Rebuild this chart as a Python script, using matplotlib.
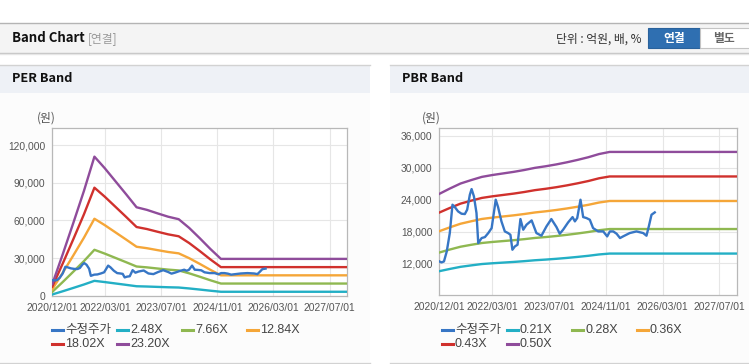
import matplotlib
matplotlib.use("Agg")
import matplotlib.pyplot as plt
import matplotlib.dates as mdates
from matplotlib.patches import Rectangle
from matplotlib.lines import Line2D
from matplotlib.ticker import FuncFormatter
import pandas as pd

W, H = 749, 364

# quarterly band base values (EPS for PER, BPS for PBR)
band_dates = ["2020-12-01", "2021-03-01", "2021-06-01", "2021-09-01", "2021-12-01",
              "2022-03-01", "2022-06-01", "2022-09-01", "2022-12-01", "2023-03-01",
              "2023-06-01", "2023-09-01", "2023-12-01", "2024-03-01", "2024-06-01",
              "2024-09-01", "2024-12-01", "2027-12-01"]
per_eps = [400, 1420, 2500, 3600, 4780, 4380, 3935, 3490, 3040, 2950,
           2830, 2715, 2630, 2330, 1975, 1605, 1265, 1265]
per_multiples = [2.48, 7.66, 12.84, 18.02, 23.20]
pbr_bps = [50200, 52200, 54100, 55400, 56600, 57300, 57900, 58500, 59200, 60000,
           60600, 61300, 62100, 63000, 64000, 65200, 66000, 66000]
pbr_multiples = [0.21, 0.28, 0.36, 0.43, 0.50]

# adjusted share price (수정주가)
price_dates = ["2020-12-01", "2020-12-20", "2021-01-10", "2021-02-03", "2021-03-01",
               "2021-03-24", "2021-04-13", "2021-05-11", "2021-06-10", "2021-07-08",
               "2021-07-28", "2021-08-20", "2021-09-04", "2021-09-24", "2021-10-16",
               "2021-10-31", "2021-11-29", "2021-12-27", "2022-01-25", "2022-02-23",
               "2022-03-30", "2022-04-19", "2022-05-18", "2022-06-16", "2022-07-14",
               "2022-08-03", "2022-08-20", "2022-09-10", "2022-10-03", "2022-10-28",
               "2022-11-21", "2022-12-19", "2023-02-01", "2023-03-14", "2023-04-26",
               "2023-06-08", "2023-07-20", "2023-09-02", "2023-09-30", "2023-10-29",
               "2023-12-11", "2024-01-18", "2024-02-07", "2024-02-27", "2024-03-26",
               "2024-04-18", "2024-05-16", "2024-06-14", "2024-07-12", "2024-08-25",
               "2024-10-07", "2024-11-10", "2024-12-03", "2025-01-01", "2025-01-30",
               "2025-02-28", "2025-03-26", "2025-05-22", "2025-07-19", "2025-09-15",
               "2025-10-13", "2025-11-02", "2025-11-25", "2025-12-23"]
price = [12380, 12190, 12380, 14260, 17720, 23060, 22620, 21800, 21360, 21300,
         22120, 24940, 26010, 24630, 21490, 15830, 16780, 16960, 17720, 18660,
         24000, 22620, 19920, 18030, 17720, 17400, 14580, 15200, 15520, 20360,
         18350, 19290, 20100, 17720, 17220, 18970, 20360, 18850, 17590, 18350,
         19730, 20730, 19920, 20550, 24000, 20730, 20550, 20230, 18660, 18030,
         18030, 17090, 18030, 18030, 17590, 16780, 17090, 17720, 18030, 17720,
         17220, 18970, 21170, 21610]

band_colors = ["#23afc5", "#8fb851", "#f5a638", "#d0312d", "#8f4c9b"]
price_color = "#3776c5"
xtick_dates = ["2020-12-01", "2022-03-01", "2023-07-01", "2024-11-01", "2026-03-01", "2027-07-01"]

KR = ["Noto Sans CJK KR", "DejaVu Sans"]
LAT = ["Liberation Sans", "Noto Sans CJK KR"]


def fx(x):
    return x / W


def fy(y):
    return 1 - y / H


def rect(fig, x0, y0, x1, y1, **kw):
    fig.add_artist(Rectangle((fx(x0), fy(y1)), fx(x1) - fx(x0), fy(y0) - fy(y1),
                             transform=fig.transFigure, zorder=0, **kw))


def hline(fig, x0, x1, y, color, lw=1.0):
    fig.add_artist(Line2D([fx(x0), fx(x1)], [fy(y), fy(y)], transform=fig.transFigure,
                          color=color, lw=lw, zorder=1))


def draw_panel(fig, box, base, multiples, yticks, ylim, legend_x):
    ax = fig.add_axes(box)
    ax.set_zorder(5)
    ax.set_facecolor("white")
    bd = pd.to_datetime(band_dates)
    for m, c in zip(multiples, band_colors):
        ax.plot(bd, [v * m for v in base], color=c, lw=1.7, zorder=3)
    ax.plot(pd.to_datetime(price_dates), price, color=price_color, lw=1.7, zorder=4)

    ax.set_xlim(pd.Timestamp("2020-12-01"), pd.Timestamp("2027-12-01"))
    ax.set_ylim(*ylim)
    ax.set_xticks(pd.to_datetime(xtick_dates))
    ax.xaxis.set_major_formatter(mdates.DateFormatter("%Y/%m/%d"))
    ax.set_yticks(yticks)
    ax.yaxis.set_major_formatter(FuncFormatter(lambda v, p: f"{int(v):,}"))
    ax.grid(True, color="#e6e6e6", lw=0.8, zorder=0)
    ax.tick_params(length=0, labelsize=7.4, labelcolor="#555555", pad=5)
    for lab in ax.get_xticklabels() + ax.get_yticklabels():
        lab.set_family(LAT)
    for s in ax.spines.values():
        s.set_color("#b8b8b8")
        s.set_linewidth(0.9)

    # legend drawn by hand to keep the even column pitch
    labels = ["수정주가"] + [f"{m:.2f}X" for m in multiples]
    colors = [price_color] + band_colors
    for i, (lab, c) in enumerate(zip(labels, colors)):
        x0 = legend_x + (i % 4) * 65
        y0 = 330 + (i // 4) * 14
        fig.add_artist(Line2D([fx(x0), fx(x0 + 11)], [fy(y0), fy(y0)],
                              transform=fig.transFigure, color=c, lw=2.2, zorder=6))
        fig.text(fx(x0 + 13), fy(y0), lab, fontsize=9, color="#444444",
                 family=LAT, va="center", ha="left", zorder=6)
    return ax


fig = plt.figure(figsize=(W / 100, H / 100), dpi=100)
fig.patch.set_facecolor("white")

# top header bar
rect(fig, 0, 22.5, W, 52.5, facecolor="#f4f4f4", edgecolor="none")
hline(fig, 0, W, 22.5, "#b4b4b4")
hline(fig, 0, W, 52.5, "#c2c2c2")
hline(fig, 0, W, 53.5, "#e6e6e6")
fig.text(fx(11.5), fy(38.5), "Band Chart", fontsize=9.5, weight="bold", family=KR,
         va="center", ha="left", color="#111111")
fig.text(fx(88), fy(38.5), "[연결]", fontsize=8.5, family=KR, va="center", ha="left",
         color="#999999")
fig.text(fx(642), fy(39), "단위 : 억원, 배, %", fontsize=8.5, family=KR, va="center",
         ha="right", color="#333333")
rect(fig, 648, 28.5, 700, 47.5, facecolor="#2f6fb1", edgecolor="#2a629c", lw=0.8)
fig.text(fx(674), fy(38.5), "연결", fontsize=8.5, weight="bold", family=KR, va="center",
         ha="center", color="white")
rect(fig, 700, 28.5, 752, 47.5, facecolor="white", edgecolor="#c4c4c4", lw=0.8)
fig.text(fx(724), fy(38.5), "별도", fontsize=8.5, weight="bold", family=KR, va="center",
         ha="center", color="#666666")

# panel frames
for x0, x1, title in [(0, 370, "PER Band"), (390, W, "PBR Band")]:
    rect(fig, x0, 93, x1, 362, facecolor="#fcfcfc", edgecolor="none")
    rect(fig, x0, 64.5, x1, 93, facecolor="#eef1f6", edgecolor="none")
    hline(fig, x0, x1, 64.5, "#d2d2d2")
    hline(fig, x0, x1, 362.5, "#d2d2d2")
    fig.text(fx(x0 + 11.5), fy(79), title, fontsize=9.2, weight="bold", family=KR,
             va="center", ha="left", color="#111111")

per_ax = draw_panel(fig, [fx(52.3), fy(295.7), fx(347.3) - fx(52.3), fy(128.3) - fy(295.7)],
                    per_eps, per_multiples, [0, 30000, 60000, 90000, 120000], (0, 133500), 52)
pbr_ax = draw_panel(fig, [fx(439.3), fy(295.3), fx(737.3) - fx(439.3), fy(128.3) - fy(295.3)],
                    pbr_bps, pbr_multiples, [12000, 18000, 24000, 30000, 36000], (6000, 37450), 442)

fig.text(fx(37), fy(118), "(원)", fontsize=8.5, family=KR, va="center", ha="left", color="#555555")
fig.text(fx(422), fy(118), "(원)", fontsize=8.5, family=KR, va="center", ha="left", color="#555555")

fig.savefig("out.png", dpi=100, facecolor="white")
